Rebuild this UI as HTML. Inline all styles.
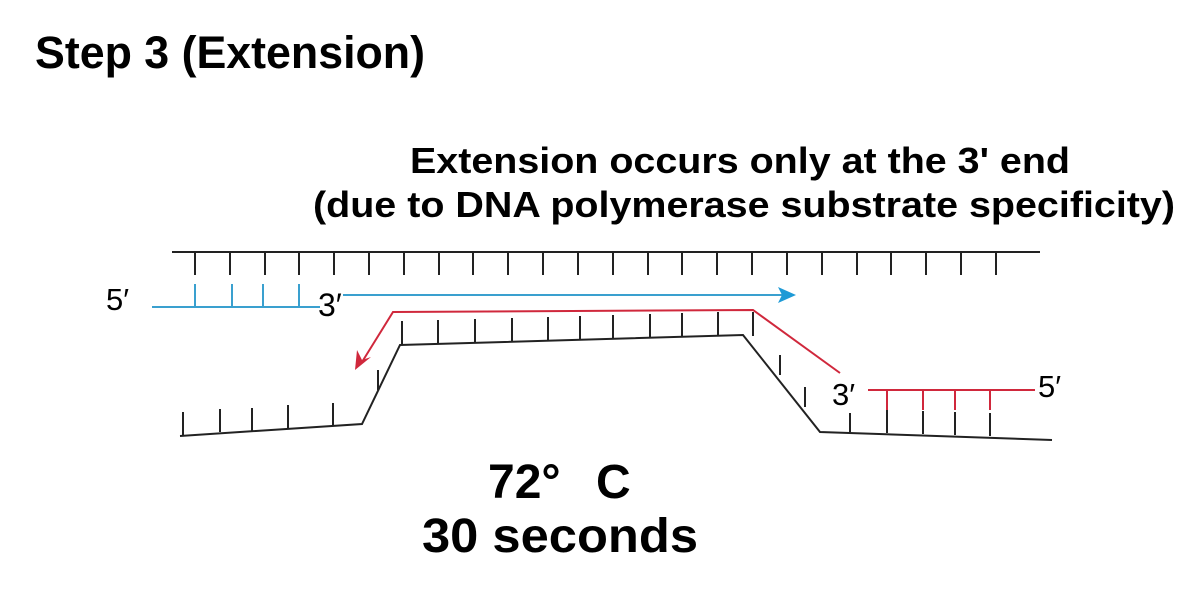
<!DOCTYPE html>
<html><head><meta charset="utf-8"><style>
html,body{margin:0;padding:0;background:#fff;}
svg{display:block;}
text{font-family:"Liberation Sans",Arial,sans-serif;fill:#000;}
</style></head><body>
<svg width="1200" height="606" viewBox="0 0 1200 606" xmlns="http://www.w3.org/2000/svg">
<text x="35" y="68" font-size="45" font-weight="bold" textLength="390" lengthAdjust="spacingAndGlyphs">Step 3 (Extension)</text>
<text x="410" y="173" font-size="36" font-weight="bold" textLength="660" lengthAdjust="spacingAndGlyphs">Extension occurs only at the 3' end</text>
<text x="313" y="217" font-size="36" font-weight="bold" textLength="862" lengthAdjust="spacingAndGlyphs">(due to DNA polymerase substrate specificity)</text>
<text x="488" y="498" font-size="48" font-weight="bold">72°</text>
<text x="596" y="498" font-size="48" font-weight="bold">C</text>
<text x="422" y="552" font-size="48" font-weight="bold" textLength="276" lengthAdjust="spacingAndGlyphs">30 seconds</text>

<g stroke="#222" stroke-width="2" fill="none">
<line x1="172" y1="252" x2="1040" y2="252"/>
<path d="M195 252v23 M230 252v23 M265 252v23 M299 252v23 M334 252v23 M369 252v23 M404 252v23 M439 252v23 M473 252v23 M508 252v23 M543 252v23 M578 252v23 M613 252v23 M648 252v23 M682 252v23 M717 252v23 M752 252v23 M787 252v23 M822 252v23 M857 252v23 M891 252v23 M926 252v23 M961 252v23 M996 252v23"/>
<path d="M180 436 L362 424 L400 345 L743 335 L820 432 L1052 440"/>
<path d="M402 345v-24 M438 344v-24 M475 343v-24 M512 342v-24 M548 341v-24 M580 340v-24 M613 339v-24 M650 338v-24 M682 337v-24 M718 336v-24 M753 336v-24"/>
<path d="M183 435v-23 M220 432v-23 M252 431v-23 M288 428v-23 M333 426v-23 M378 370v20"/>
<path d="M780 355v20 M805 387v20 M850 432v-19 M887 433v-23 M923 434v-23 M955 435v-23 M990 436v-23"/>
</g>
<g stroke="#3aa0cf" stroke-width="2" fill="none">
<line x1="152" y1="307" x2="320" y2="307"/>
<path d="M195 307v-23 M232 307v-23 M263 307v-23 M299 307v-23"/>
<line x1="343" y1="295" x2="782" y2="295"/>
</g>
<polygon points="796,295 778,287 782,295 778,303" fill="#1e9ad6"/>
<text x="106" y="310" font-size="31" fill="#333">5′</text>
<text x="318" y="316" font-size="32" fill="#333">3′</text>
<g stroke="#d0283c" stroke-width="2" fill="none">
<path d="M840 373 L753 310 L393 312 L362 362"/>
<line x1="868" y1="390" x2="1035" y2="390"/>
<path d="M887 390v20 M923 390v20 M955 390v20 M990 390v20"/>
</g>
<polygon points="355,370 357,350 362,360 371,357" fill="#d0283c"/>
<text x="832" y="405" font-size="31" fill="#333">3′</text>
<text x="1038" y="397" font-size="31" fill="#333">5′</text>
</svg>
</body></html>
